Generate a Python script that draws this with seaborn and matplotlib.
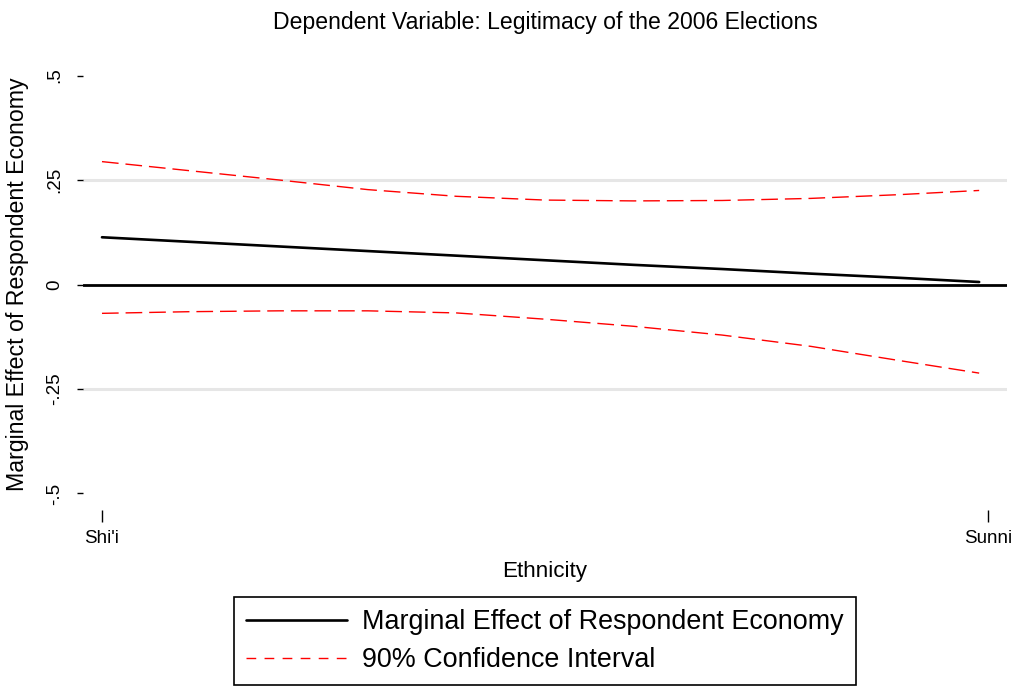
import matplotlib
matplotlib.use("Agg")
import matplotlib.pyplot as plt
import seaborn as sns
import pandas as pd
from matplotlib.lines import Line2D

# Ethnicity scale (0 = Shi'i, 1 = Sunni) and the estimated marginal effect with 90% CI
ethnicity = [0.0, 0.1, 0.2, 0.3, 0.4, 0.5, 0.6, 0.7, 0.8, 0.9, 0.99]
marginal_effect = [0.113, 0.102, 0.091, 0.080, 0.069, 0.058, 0.047, 0.037, 0.026, 0.016, 0.006]
ci_upper = [0.294, 0.272, 0.250, 0.227, 0.211, 0.202, 0.200, 0.201, 0.206, 0.215, 0.225]
ci_lower = [-0.069, -0.065, -0.063, -0.063, -0.068, -0.083, -0.100, -0.121, -0.148, -0.182, -0.212]

x_ticks = [0, 1]
x_ticklabels = ["Shi'i", "Sunni"]
y_ticks = [-0.5, -0.25, 0, 0.25, 0.5]
y_ticklabels = ["-.5", "-.25", "0", ".25", ".5"]

df = pd.DataFrame({"ethnicity": ethnicity, "effect": marginal_effect,
                   "upper": ci_upper, "lower": ci_lower})

sns.set_theme(style="white")
plt.rcParams["font.family"] = ["Liberation Sans", "DejaVu Sans"]
plt.rcParams.update({"text.color": "black", "axes.labelcolor": "black",
                     "xtick.color": "black", "ytick.color": "black"})

fig = plt.figure(figsize=(10.16, 6.87), dpi=100)
ax = fig.add_axes([83 / 1016, 177 / 687, 924 / 1016, 451 / 687])

# light horizontal grid lines at +/- .25 and a reference line at zero
for yv in (0.25, -0.25):
    ax.axhline(yv, color="#e6e6e6", lw=2.2, zorder=0)
ax.axhline(0, color="black", lw=2.0, zorder=1)

sns.lineplot(data=df, x="ethnicity", y="effect", color="black", lw=1.9, ax=ax, zorder=3)
for col in ("upper", "lower"):
    sns.lineplot(data=df, x="ethnicity", y=col, color="red", lw=1.0,
                 dashes=False, ax=ax, zorder=2).lines[-1].set_dashes((12, 5))

ax.set_xlim(-19 / 887, 1 + 19 / 887)
ax.set_ylim(-0.5395, 0.5395)

for s in ax.spines.values():
    s.set_visible(False)

ax.set_xticks(x_ticks)
ax.set_xticklabels(x_ticklabels, fontsize=13.5)
ax.set_yticks(y_ticks)
ax.set_yticklabels(y_ticklabels, fontsize=13.5, rotation=90, va="center")
ax.tick_params(axis="x", direction="out", length=8.5, width=1.0, color="black", pad=6, bottom=True)
ax.tick_params(axis="y", direction="out", length=4.5, width=1.0, color="black", pad=10, left=True)

ax.set_xlabel("Ethnicity", fontsize=16.2, va="center")
ax.xaxis.set_label_coords(0.5, (510 - 571) / 451)
ax.set_ylabel("Marginal Effect of Respondent Economy", fontsize=16.7, va="center")
ax.yaxis.set_label_coords((18 - 83) / 924, (510 - 284) / 451)

fig.text(545 / 1016, 1 - 22 / 687, "Dependent Variable: Legitimacy of the 2006 Elections",
         ha="center", va="center", fontsize=16.6)

handles = [Line2D([], [], color="black", lw=1.9),
           Line2D([], [], color="red", lw=1.0, dashes=(7, 6))]
leg = fig.legend(handles, ["Marginal Effect of Respondent Economy", "90% Confidence Interval"],
                 loc="center", bbox_to_anchor=(545 / 1016, 1 - 641 / 687),
                 fontsize=19.4, frameon=True, fancybox=False, framealpha=1,
                 handlelength=3.75, handletextpad=0.56, labelspacing=0.45,
                 borderpad=0.45, borderaxespad=0)
leg.get_frame().set_edgecolor("black")
leg.get_frame().set_linewidth(1.2)

fig.savefig("out.png", dpi=100, facecolor="white")
